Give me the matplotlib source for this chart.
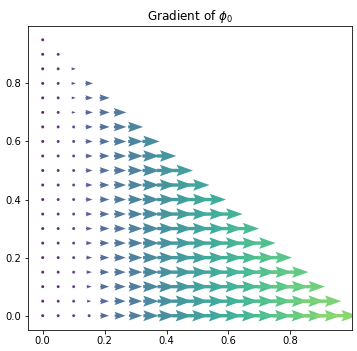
import numpy as np
import matplotlib
matplotlib.use("Agg")
import matplotlib.pyplot as plt
from matplotlib.colors import PowerNorm, ListedColormap

# grid rows (y values) and column spacing
y_rows = [0.00, 0.05, 0.10, 0.15, 0.20, 0.25, 0.30, 0.35, 0.40, 0.45,
          0.50, 0.55, 0.60, 0.65, 0.70, 0.75, 0.80, 0.85, 0.90, 0.95]
x_step = 0.05

# estimated gradient magnitude (x-component) per row, starting at x = 0
grad_rows = [
    [0, .020, .050, .065, .200, .250, .300, .350, .400, .450, .500, .550, .600, .650, .700, .750, .800, .850, .900, .950],
    [0, .020, .050, .100, .202, .253, .303, .354, .404, .455, .505, .556, .606, .657, .707, .758, .808, .859, .909],
    [0, .020, .050, .115, .204, .255, .306, .357, .408, .459, .510, .561, .612, .663, .714, .765, .816, .867],
    [0, .020, .055, .125, .206, .258, .309, .361, .412, .464, .515, .567, .618, .670, .721, .773, .824],
    [0, .020, .055, .135, .208, .260, .312, .364, .416, .468, .520, .572, .624, .676, .728, .780],
    [0, .025, .055, .140, .210, .263, .315, .368, .420, .473, .525, .578, .630, .683, .735],
    [0, .025, .060, .145, .212, .265, .318, .371, .424, .477, .530, .583, .636, .689],
    [0, .025, .060, .150, .214, .268, .321, .375, .428, .482, .535, .589, .642],
    [0, .025, .060, .155, .216, .270, .324, .378, .432, .486, .540, .594],
    [0, .025, .060, .155, .218, .273, .327, .382, .436, .491, .545],
    [0, .030, .065, .160, .220, .275, .330, .385, .440, .495],
    [0, .030, .065, .160, .222, .278, .333, .389, .444],
    [0, .030, .065, .165, .224, .280, .336, .392],
    [0, .030, .065, .165, .226, .283, .339],
    [0, .030, .090, .170, .228, .285],
    [0, .030, .095, .170, .230],
    [0, .035, .100, .175],
    [0, .035, .100],
    [0, .035],
    [0],
]

X, Y, U, V = [], [], [], []
for yv, row in zip(y_rows, grad_rows):
    for k, g in enumerate(row):
        X.append(k * x_step)
        Y.append(yv)
        U.append(g)
        V.append(0.0)
X = np.array(X); Y = np.array(Y); U = np.array(U); V = np.array(V)
C = np.hypot(U, V)

base = plt.get_cmap("viridis")(np.linspace(0, 1, 256))
soft = base.copy()
soft[:, :3] = base[:, :3] * 0.85 + 0.15
cmap = ListedColormap(soft)

fig = plt.figure(figsize=(357 / 72, 351 / 72), dpi=72)
ax = fig.add_axes([28 / 357, 1 - 329.5 / 351, (351.5 - 28) / 357, (329.5 - 26) / 351])
q = ax.quiver(X, Y, U, V, C, cmap=cmap, norm=PowerNorm(0.75, vmin=0, vmax=1.3),
              units="dots", width=3.4, headwidth=3.4, headlength=4.8, headaxislength=4.2,
              minlength=0.95, scale_units="dots", scale=1 / 44, pivot="middle")
ax.set_title(r"Gradient of $\phi_0$", fontsize=12)
ax.set_xticks([0.0, 0.2, 0.4, 0.6, 0.8])
ax.set_yticks([0.0, 0.2, 0.4, 0.6, 0.8])
ax.tick_params(labelsize=10)
fig.savefig("out.png", dpi=72)
